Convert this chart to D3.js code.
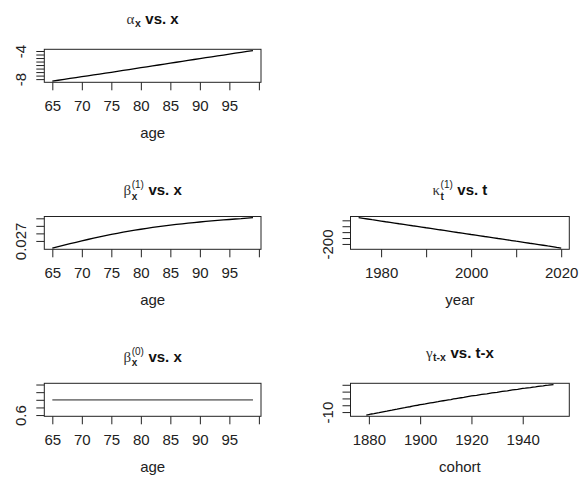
<!DOCTYPE html>
<html>
<head>
<meta charset="utf-8">
<script src="https://cdn.jsdelivr.net/npm/d3@7"></script>
<style>
  body { margin: 0; background: #fff; }
  svg { display: block; }
</style>
</head>
<body>
<div id="chart"></div>
<script>
// ages 65..99, calendar years 1975..2020, cohorts 1876..1955
const ages = d3.range(65, 100);
const years = d3.range(1975, 2021);
const cohorts = d3.range(1876, 1956);

const alpha = [-8.28, -8.16, -8.04, -7.91, -7.79, -7.66, -7.54, -7.41, -7.28, -7.16,
  -7.03, -6.90, -6.77, -6.64, -6.51, -6.38, -6.25, -6.12, -5.99, -5.86,
  -5.73, -5.60, -5.47, -5.34, -5.21, -5.08, -4.95, -4.82, -4.70, -4.57,
  -4.44, -4.31, -4.18, -4.06, -3.93];

const beta1 = [0.02605, 0.02625, 0.02645, 0.02664, 0.02682, 0.02701, 0.02719, 0.02736, 0.02753, 0.02769,
  0.02786, 0.02801, 0.02816, 0.02830, 0.02843, 0.02855, 0.02867, 0.02879, 0.02890, 0.02900,
  0.02909, 0.02919, 0.02927, 0.02936, 0.02944, 0.02951, 0.02959, 0.02965, 0.02972, 0.02978,
  0.02984, 0.02991, 0.02996, 0.03003, 0.03008];

const beta0 = [1, 1, 1, 1, 1, 1, 1, 1, 1, 1, 1, 1, 1, 1, 1, 1, 1, 1, 1, 1,
  1, 1, 1, 1, 1, 1, 1, 1, 1, 1, 1, 1, 1, 1, 1];

const kappa = [22, 17, 11, 5, 0, -6, -12, -17, -23, -29,
  -34, -40, -46, -51, -57, -63, -68, -74, -80, -85,
  -91, -97, -103, -108, -114, -120, -125, -131, -137, -142,
  -148, -154, -159, -165, -171, -177, -182, -188, -194, -199,
  -205, -211, -217, -222, -229, -235];

// first and last three cohorts are not estimated
const gamma = [null, null, null,
  -12.2, -11.8, -11.4, -11.1, -10.7, -10.4, -10.0, -9.6, -9.3, -8.9, -8.6,
  -8.2, -7.9, -7.5, -7.1, -6.8, -6.4, -6.1, -5.7, -5.3, -5.0, -4.6,
  -4.3, -4.0, -3.6, -3.3, -3.0, -2.7, -2.4, -2.0, -1.7, -1.4,
  -1.1, -0.8, -0.4, -0.1, 0.2, 0.5, 0.8, 1.2, 1.5, 1.8,
  2.1, 2.3, 2.6, 2.9, 3.2, 3.4, 3.7, 4.0, 4.3, 4.5,
  4.8, 5.1, 5.4, 5.6, 5.9, 6.2, 6.5, 6.7, 7.0, 7.3,
  7.5, 7.8, 8.0, 8.3, 8.5, 8.8, 9.0, 9.2, 9.5, 9.7, 10.0, 10.2,
  null, null, null];

// tick values and the labels that are actually printed
const ageTicks = [65, 70, 75, 80, 85, 90, 95, 100];
const ageTickLabels = ["65", "70", "75", "80", "85", "90", "95", ""];
const yearTicks = [1980, 1990, 2000, 2010, 2020];
const yearTickLabels = ["1980", "", "2000", "", "2020"];
const cohortTicks = [1880, 1900, 1920, 1940];
const cohortTickLabels = ["1880", "1900", "1920", "1940"];
const alphaTicks = [-8, -7.5, -7, -6.5, -6, -5.5, -5, -4.5, -4];
const alphaTickLabels = ["-8", "", "", "", "", "", "", "", "-4"];
const beta1Ticks = [0.027, 0.028, 0.029, 0.030];
const beta1TickLabels = ["0.027", "", "", ""];
const kappaTicks = [-200, -150, -100, -50, 0];
const kappaTickLabels = ["-200", "", "", "", ""];
const beta0Ticks = [0.6, 0.8, 1.0, 1.2, 1.4];
const beta0TickLabels = ["0.6", "", "", "", ""];
const gammaTicks = [-10, -5, 0, 5, 10];
const gammaTickLabels = ["-10", "", "", "", ""];

const width = 579, height = 477;
const cols = [[44.3, 261], [350.5, 569.3]];
const rows = [[49.3, 82.3], [216.5, 249.3], [383.3, 416.3]];
const font = "'Liberation Sans', Arial, Helvetica, sans-serif";

const panels = [
  { col: 0, row: 0, x: ages, y: alpha, xt: ageTicks, xl: ageTickLabels, yt: alphaTicks, yl: alphaTickLabels,
    xlab: "age", title: { g: "\u03b1", sub: "x", sup: null, rest: "vs. x" }, color: "#000", lw: 1.3 },
  { col: 0, row: 1, x: ages, y: beta1, xt: ageTicks, xl: ageTickLabels, yt: beta1Ticks, yl: beta1TickLabels,
    xlab: "age", title: { g: "\u03b2", sub: "x", sup: "(1)", rest: "vs. x" }, color: "#000", lw: 1.3 },
  { col: 1, row: 1, x: years, y: kappa, xt: yearTicks, xl: yearTickLabels, yt: kappaTicks, yl: kappaTickLabels,
    xlab: "year", title: { g: "\u03ba", sub: "t", sup: "(1)", rest: "vs. t" }, color: "#000", lw: 1.3 },
  { col: 0, row: 2, x: ages, y: beta0, xt: ageTicks, xl: ageTickLabels, yt: beta0Ticks, yl: beta0TickLabels,
    xlab: "age", title: { g: "\u03b2", sub: "x", sup: "(0)", rest: "vs. x" }, color: "#808080", lw: 1.8 },
  { col: 1, row: 2, x: cohorts, y: gamma, xt: cohortTicks, xl: cohortTickLabels, yt: gammaTicks, yl: gammaTickLabels,
    xlab: "cohort", title: { g: "\u03b3", sub: "t-x", sup: null, rest: "vs. t-x" }, color: "#000", lw: 1.3 }
];

const svg = d3.select("#chart").append("svg")
  .attr("width", width)
  .attr("height", height);

svg.append("rect").attr("width", width).attr("height", height).attr("fill", "#fff");

// R style range: 4% padding, constant series widened by 40%
function rRange(vals) {
  let [lo, hi] = d3.extent(vals.filter(v => v != null));
  if (lo === hi) { lo = lo - 0.4 * Math.abs(lo); hi = hi + 0.4 * Math.abs(hi); }
  const pad = (hi - lo) * 0.04;
  return [lo - pad, hi + pad];
}

function drawTitle(g, cx, baseline, t) {
  const tg = g.append("g");
  let x = 0;
  const gr = tg.append("text")
    .attr("x", x).attr("y", baseline)
    .attr("font-family", "'Liberation Serif', 'DejaVu Serif', serif")
    .attr("font-size", 15).attr("fill", "#333")
    .text(t.g);
  x += gr.node().getComputedTextLength() + 0.5;
  let w = 0;
  if (t.sub) {
    const s = tg.append("text")
      .attr("x", x).attr("y", baseline + (t.sup ? 4.5 : 3.5))
      .attr("font-family", font).attr("font-size", t.sup ? 10 : 10.5).attr("font-weight", "bold")
      .attr("fill", "#222")
      .text(t.sub);
    w = s.node().getComputedTextLength();
  }
  if (t.sup) {
    const s = tg.append("text")
      .attr("x", x).attr("y", baseline - 7)
      .attr("font-family", font).attr("font-size", 10)
      .attr("fill", "#222")
      .text(t.sup);
    w = Math.max(w, s.node().getComputedTextLength());
  }
  x += w + 4.5;
  const r = tg.append("text")
    .attr("x", x).attr("y", baseline)
    .attr("font-family", font).attr("font-size", 15).attr("font-weight", "bold")
    .attr("fill", "#111")
    .text(t.rest);
  x += r.node().getComputedTextLength();
  tg.attr("transform", "translate(" + (cx - x / 2) + ",0)");
}

panels.forEach(p => {
  const [x0, x1] = cols[p.col];
  const [y0, y1] = rows[p.row];
  const xScale = d3.scaleLinear().domain(rRange(p.x)).range([x0, x1]);
  const yScale = d3.scaleLinear().domain(rRange(p.y)).range([y1, y0]);
  const g = svg.append("g");

  // data line
  const line = d3.line()
    .defined((d, i) => p.y[i] != null)
    .x((d, i) => xScale(p.x[i]))
    .y((d, i) => yScale(p.y[i]));
  g.append("path")
    .datum(p.y)
    .attr("d", line)
    .attr("fill", "none")
    .attr("stroke", p.color)
    .attr("stroke-width", p.lw);

  // box
  g.append("rect")
    .attr("x", x0).attr("y", y0)
    .attr("width", x1 - x0).attr("height", y1 - y0)
    .attr("fill", "none").attr("stroke", "#222").attr("stroke-width", 1);

  // x axis
  const xa = g.append("g")
    .attr("transform", "translate(0," + y1 + ")")
    .call(d3.axisBottom(xScale).tickValues(p.xt).tickFormat((d, i) => p.xl[i]).tickSize(8).tickPadding(10));
  xa.select(".domain").remove();
  xa.selectAll("line").attr("stroke", "#222");
  xa.selectAll("text")
    .attr("font-family", font).attr("font-size", 15).attr("fill", "#222");

  // y axis, labels parallel to the axis
  const ya = g.append("g")
    .attr("transform", "translate(" + x0 + ",0)")
    .call(d3.axisLeft(yScale).tickValues(p.yt).tickFormat((d, i) => p.yl[i]).tickSize(8));
  ya.select(".domain").remove();
  ya.selectAll("line").attr("stroke", "#222");
  ya.selectAll("text")
    .attr("x", null).attr("dy", null)
    .attr("transform", "translate(-18,0) rotate(-90)")
    .attr("text-anchor", "middle")
    .attr("font-family", font).attr("font-size", 15).attr("fill", "#222");
  ya.attr("font-size", null).attr("font-family", null);
  xa.attr("font-size", null).attr("font-family", null);

  // x axis title
  g.append("text")
    .attr("x", (x0 + x1) / 2)
    .attr("y", y1 + 55.5)
    .attr("text-anchor", "middle")
    .attr("font-family", font).attr("font-size", 15).attr("fill", "#222")
    .text(p.xlab);

  // main title
  drawTitle(g, (x0 + x1) / 2, y0 - (p.title.sup ? 21.5 : 25.5), p.title);
});
</script>
</body>
</html>
